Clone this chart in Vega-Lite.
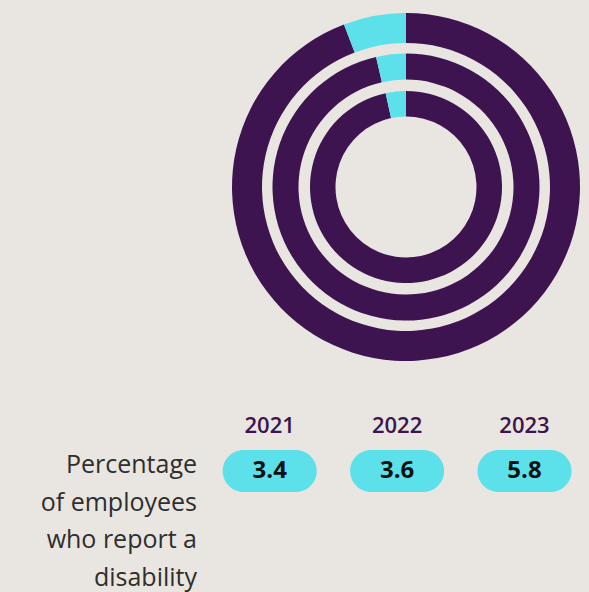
{
  "$schema": "https://vega.github.io/schema/vega-lite/v6.json",
  "width": 589,
  "height": 592,
  "autosize": {"type": "fit", "contains": "padding"},
  "padding": 0,
  "background": "#e9e5e1",
  "config": {"view": {"stroke": null}, "font": "Open Sans"},
  "datasets": {
    "rings": [
      {"year": "2021", "category": "Other", "share": 96.6},
      {"year": "2021", "category": "Reported disability", "share": 3.4},
      {"year": "2022", "category": "Other", "share": 96.4},
      {"year": "2022", "category": "Reported disability", "share": 3.6},
      {"year": "2023", "category": "Other", "share": 94.2},
      {"year": "2023", "category": "Reported disability", "share": 5.8}
    ],
    "values": [
      {"year": "2021", "pct": "3.4"},
      {"year": "2022", "pct": "3.6"},
      {"year": "2023", "pct": "5.8"}
    ],
    "label": [
      {"text": "Percentage\nof employees\nwho report a\ndisability"}
    ]
  },
  "layer": [
    {
      "data": {"name": "rings"},
      "transform": [{"filter": "datum.year === '2023'"}],
      "mark": {"type": "arc", "radius": 174, "radius2": 144, "x": 406, "y": 187},
      "encoding": {
        "theta": {"field": "share", "type": "quantitative", "stack": true, "scale": {"domain": [0, 100]}},
        "order": {"field": "category", "sort": "ascending"},
        "color": {"field": "category", "type": "nominal", "scale": {"domain": ["Other", "Reported disability"], "range": ["#3d1350", "#5ce0ea"]}, "legend": null}
      }
    },
    {
      "data": {"name": "rings"},
      "transform": [{"filter": "datum.year === '2022'"}],
      "mark": {"type": "arc", "radius": 133.5, "radius2": 107.5, "x": 406, "y": 187},
      "encoding": {
        "theta": {"field": "share", "type": "quantitative", "stack": true, "scale": {"domain": [0, 100]}},
        "order": {"field": "category", "sort": "ascending"},
        "color": {"field": "category", "type": "nominal", "legend": null}
      }
    },
    {
      "data": {"name": "rings"},
      "transform": [{"filter": "datum.year === '2021'"}],
      "mark": {"type": "arc", "radius": 96, "radius2": 70.5, "x": 406, "y": 187},
      "encoding": {
        "theta": {"field": "share", "type": "quantitative", "stack": true, "scale": {"domain": [0, 100]}},
        "order": {"field": "category", "sort": "ascending"},
        "color": {"field": "category", "type": "nominal", "legend": null}
      }
    },
    {
      "data": {"name": "values"},
      "mark": {"type": "text", "fontSize": 22, "fontWeight": 600, "color": "#3d1350", "baseline": "middle", "align": "center"},
      "encoding": {
        "x": {"field": "year", "type": "ordinal", "scale": {"type": "point", "padding": 0, "domain": ["2021", "2022", "2023"], "range": [269.7, 524.5]}, "axis": null},
        "y": {"datum": "year", "type": "ordinal", "scale": {"type": "point", "padding": 0, "domain": ["year", "value"], "range": [426, 471]}, "axis": null},
        "text": {"field": "year"}
      }
    },
    {
      "data": {"name": "values"},
      "mark": {"type": "rect", "width": 94, "height": 42, "cornerRadius": 21, "color": "#5ce0ea"},
      "encoding": {
        "x": {"field": "year", "type": "ordinal"},
        "y": {"datum": "value", "type": "ordinal"}
      }
    },
    {
      "data": {"name": "values"},
      "mark": {"type": "text", "fontSize": 24, "fontWeight": "bold", "color": "#111111", "baseline": "middle", "align": "center", "dy": 0},
      "encoding": {
        "x": {"field": "year", "type": "ordinal"},
        "y": {"datum": "value", "type": "ordinal"},
        "text": {"field": "pct"}
      }
    },
    {
      "data": {"name": "label"},
      "mark": {"type": "text", "fontSize": 25, "color": "#2e2e2e", "align": "right", "baseline": "alphabetic", "lineBreak": "\n", "lineHeight": 37.5, "dx": -72.7, "dy": 2},
      "encoding": {
        "x": {"datum": "2021", "type": "ordinal"},
        "y": {"datum": "value", "type": "ordinal"},
        "text": {"field": "text"}
      }
    }
  ]
}
